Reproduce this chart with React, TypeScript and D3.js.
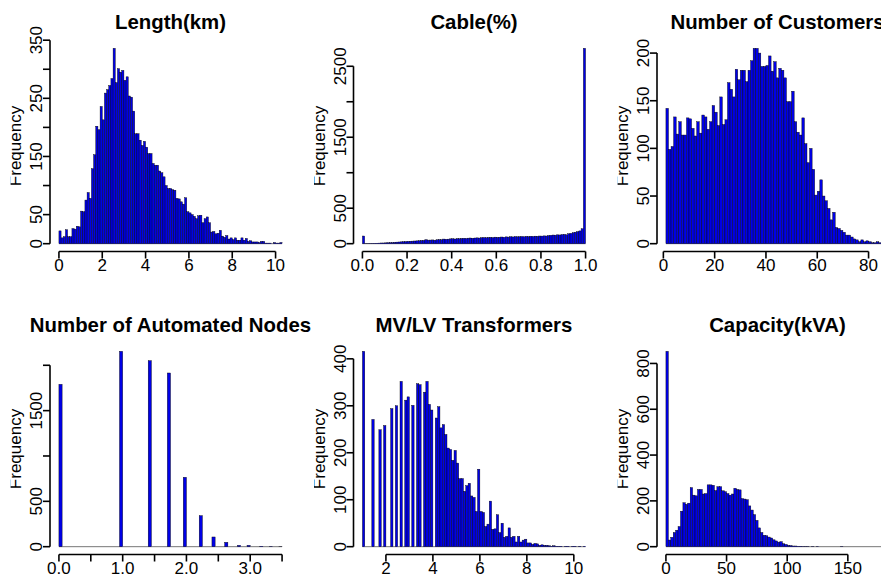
import React from "react";
import * as d3 from "d3";

// ---- histogram bin counts (one entry per bin) ----
const lengthCounts = [
  22, 10, 12, 24, 12, 12, 26, 25, 30, 29,
  56, 55, 75, 88, 78, 129, 153, 202, 196, 236,
  213, 259, 265, 272, 284, 336, 277, 301, 295, 298,
  281, 287, 254, 252, 228, 189, 189, 178, 169, 176,
  166, 155, 155, 138, 135, 135, 125, 122, 115, 100,
  95, 95, 93, 92, 78, 77, 72, 68, 79, 55,
  53, 50, 47, 43, 48, 49, 36, 43, 46, 36,
  20, 21, 17, 18, 23, 13, 11, 14, 8, 10,
  7, 10, 6, 6, 10, 6, 9, 4, 5, 3,
  3, 3, 2, 4, 4, 1, 1, 1, 0, 2,
  1, 1, 2,
];

const cableCounts = [
  108, 2, 3, 4, 5, 6, 7, 8, 10, 10,
  12, 14, 15, 16, 20, 22, 24, 26, 28, 30,
  33, 35, 36, 38, 40, 42, 45, 47, 56, 50,
  51, 53, 49, 55, 58, 56, 65, 62, 64, 68,
  70, 66, 72, 70, 74, 76, 73, 78, 80, 77,
  80, 82, 79, 85, 86, 83, 88, 90, 86, 92,
  89, 91, 94, 90, 96, 93, 98, 95, 100, 97,
  99, 101, 97, 103, 100, 105, 102, 106, 104, 108,
  107, 110, 108, 115, 118, 122, 120, 125, 123, 128,
  131, 125, 140, 145, 155, 162, 170, 180, 210, 2753,
];

const customerCounts = [
  142, 99, 102, 133, 115, 128, 114, 114, 132, 131,
  121, 113, 128, 116, 135, 133, 120, 128, 145, 138,
  124, 154, 125, 130, 169, 162, 154, 183, 172, 182,
  182, 170, 182, 192, 205, 205, 200, 186, 186, 187,
  197, 181, 191, 174, 184, 182, 174, 149, 149, 160,
  128, 117, 114, 132, 105, 85, 100, 78, 51, 55,
  67, 50, 45, 37, 25, 33, 17, 16, 14, 12,
  9, 9, 7, 5, 4, 2, 4, 2, 3, 2,
  1, 1, 2, 1, 1, 1, 1,
];

const automatedNodeCounts = [
  1790, 0, 0, 0, 0, 0, 0, 0, 0, 0,
  0, 0, 0, 0, 0, 0, 0, 0, 0, 2154,
  0, 0, 0, 0, 0, 0, 0, 0, 2051, 0,
  0, 0, 0, 0, 1915, 0, 0, 0, 0, 765,
  0, 0, 0, 0, 342, 0, 0, 0, 107, 0,
  0, 0, 48, 0, 0, 0, 15, 0, 0, 15,
  0, 0, 0, 5, 0, 0, 3, 0, 0, 1,
];

const transformerCounts = [
  416, 0, 0, 0, 271, 0, 0, 249, 0, 258,
  0, 0, 294, 0, 300, 0, 352, 0, 312, 319,
  0, 301, 0, 347, 345, 0, 329, 352, 303, 291,
  0, 274, 298, 253, 260, 239, 210, 207, 184, 205,
  178, 145, 145, 118, 130, 135, 108, 105, 75, 165,
  75, 73, 43, 48, 97, 37, 38, 68, 30, 50,
  20, 22, 40, 20, 22, 10, 22, 10, 14, 16,
  8, 8, 5, 7, 6, 3, 4, 3, 3, 2,
  1, 2, 1, 1, 1, 0, 1, 1, 0, 1,
  1, 0, 1, 0, 1,
];

const capacityCounts = [
  853, 29, 41, 62, 72, 88, 155, 192, 185, 190,
  258, 225, 222, 250, 250, 230, 232, 270, 270, 268,
  245, 262, 262, 244, 240, 232, 225, 230, 255, 250,
  248, 210, 208, 205, 178, 160, 140, 115, 82, 62,
  50, 48, 42, 38, 30, 25, 20, 22, 13, 10,
  6, 5, 3, 3, 2, 2, 1, 1, 1, 0,
  1, 0, 1, 0, 0, 0, 0, 0, 0, 0,
  0, 0, 1, 0, 0, 0, 0, 0, 0, 0,
  0, 0, 0, 0, 0, 0, 0, 0, 0, 0,
  0, 0,
];

// ---- axis ticks ----
const lengthXTicks = [0, 2, 4, 6, 8, 10];
const lengthYTicks = [0, 50, 100, 150, 200, 250, 300, 350];
const lengthYLabels = [0, 50, 150, 250, 350];

const cableXTicks = [0, 0.2, 0.4, 0.6, 0.8, 1.0];
const cableYTicks = [0, 500, 1000, 1500, 2000, 2500];
const cableYLabels = [0, 500, 1500, 2500];

const customerXTicks = [0, 20, 40, 60, 80];
const customerYTicks = [0, 50, 100, 150, 200];

const nodeXTicks = [0, 0.5, 1, 1.5, 2, 2.5, 3, 3.5];
const nodeXLabels = [0, 1, 2, 3];
const nodeYTicks = [0, 500, 1000, 1500, 2000];
const nodeYLabels = [0, 500, 1500];

const transformerXTicks = [2, 4, 6, 8, 10];
const transformerYTicks = [0, 100, 200, 300, 400];

const capacityXTicks = [0, 50, 100, 150];
const capacityYTicks = [0, 200, 400, 600, 800];

// ---- layout ----
const WIDTH = 881;
const HEIGHT = 579;
const PLOT_W = 241;
const PLOT_H = 211;
const COL_LEFT = [50, 353.5, 657];
const ROW_BOTTOM = [251.5, 554.5];
const FIG_PAD = 39.4;
const FONT = "'Liberation Sans', Arial, Helvetica, sans-serif";

type Spec = {
  id: string;
  title: string;
  lo: number;
  binWidth: number;
  counts: number[];
  xTicks: number[];
  xLabels?: number[];
  xFormat: (v: number) => string;
  yTicks: number[];
  yLabels?: number[];
  col: number;
  row: number;
};

const intFmt = d3.format("d");
const oneDec = d3.format(".1f");

const panels: Spec[] = [
  { id: "len", title: "Length(km)", lo: 0, binWidth: 0.1, counts: lengthCounts, xTicks: lengthXTicks, xFormat: intFmt, yTicks: lengthYTicks, yLabels: lengthYLabels, col: 0, row: 0 },
  { id: "cab", title: "Cable(%)", lo: 0, binWidth: 0.01, counts: cableCounts, xTicks: cableXTicks, xFormat: oneDec, yTicks: cableYTicks, yLabels: cableYLabels, col: 1, row: 0 },
  { id: "cus", title: "Number of Customers", lo: 1, binWidth: 1, counts: customerCounts, xTicks: customerXTicks, xFormat: intFmt, yTicks: customerYTicks, col: 2, row: 0 },
  { id: "nod", title: "Number of Automated Nodes", lo: 0, binWidth: 0.05, counts: automatedNodeCounts, xTicks: nodeXTicks, xLabels: nodeXLabels, xFormat: oneDec, yTicks: nodeYTicks, yLabels: nodeYLabels, col: 0, row: 1 },
  { id: "trf", title: "MV/LV Transformers", lo: 1, binWidth: 0.1, counts: transformerCounts, xTicks: transformerXTicks, xFormat: intFmt, yTicks: transformerYTicks, col: 1, row: 1 },
  { id: "cap", title: "Capacity(kVA)", lo: 0, binWidth: 2, counts: capacityCounts, xTicks: capacityXTicks, xFormat: intFmt, yTicks: capacityYTicks, col: 2, row: 1 },
];

function Histogram({ spec }: { spec: Spec }) {
  const left = COL_LEFT[spec.col];
  const right = left + PLOT_W;
  const bottom = ROW_BOTTOM[spec.row];
  const top = bottom - PLOT_H;
  const hi = spec.lo + spec.counts.length * spec.binWidth;
  const span = hi - spec.lo;
  const x = d3.scaleLinear().domain([spec.lo - 0.04 * span, hi + 0.04 * span]).range([left, right]);
  const maxCount = d3.max(spec.counts) as number;
  const y = d3.scaleLinear().domain([-0.04 * maxCount, 1.04 * maxCount]).range([bottom, top]);

  const xLab = new Set(spec.xLabels ?? spec.xTicks);
  const yLab = new Set(spec.yLabels ?? spec.yTicks);
  const xT = spec.xTicks;
  const yT = spec.yTicks;
  const clipId = `fig-${spec.id}`;

  return (
    <g>
      <defs>
        <clipPath id={clipId}>
          <rect x={left - FIG_PAD} y={0} width={PLOT_W + 200} height={HEIGHT} />
        </clipPath>
      </defs>

      {/* bars */}
      <line x1={x(spec.lo)} x2={x(hi)} y1={y(0)} y2={y(0)} stroke="#666" strokeWidth={0.9} />
      {spec.counts.map((c, i) => {
        if (c <= 0) return null;
        const x0 = x(spec.lo + i * spec.binWidth);
        const x1 = x(spec.lo + (i + 1) * spec.binWidth);
        return (
          <rect
            key={i}
            x={x0}
            y={y(c)}
            width={x1 - x0}
            height={y(0) - y(c)}
            fill="#0000e6"
            stroke="#000"
            strokeWidth={0.4}
          />
        );
      })}

      {/* x axis */}
      <line x1={x(xT[0])} x2={x(xT[xT.length - 1])} y1={bottom} y2={bottom} stroke="#000" strokeWidth={1.6} />
      {xT.map((t) => (
        <g key={`xt${t}`}>
          <line x1={x(t)} x2={x(t)} y1={bottom} y2={bottom + 7} stroke="#000" strokeWidth={1.6} />
          {xLab.has(t) && (
            <text x={x(t)} y={bottom + 19.5} textAnchor="middle" fontSize={17} fontFamily={FONT} fill="#000">
              {spec.xFormat(t)}
            </text>
          )}
        </g>
      ))}

      {/* y axis */}
      <line x1={left} x2={left} y1={y(yT[0])} y2={y(yT[yT.length - 1])} stroke="#000" strokeWidth={1.6} />
      {yT.map((t) => (
        <g key={`yt${t}`}>
          <line x1={left} x2={left - 7} y1={y(t)} y2={y(t)} stroke="#000" strokeWidth={1.6} />
          {yLab.has(t) && (
            <text
              transform={`translate(${left - 8},${y(t)}) rotate(-90)`}
              textAnchor="middle"
              fontSize={17}
              fontFamily={FONT}
              fill="#000"
            >
              {intFmt(t)}
            </text>
          )}
        </g>
      ))}

      {/* axis title and main title */}
      <g clipPath={`url(#${clipId})`}>
        <text
          transform={`translate(${left - 29},${(top + bottom) / 2}) rotate(-90)`}
          textAnchor="middle"
          fontSize={17}
          fontFamily={FONT}
          fill="#000"
        >
          Frequency
        </text>
      </g>
      <text
        x={(left + right) / 2}
        y={top - 12}
        textAnchor="middle"
        fontSize={20.4}
        fontWeight="bold"
        fontFamily={FONT}
        fill="#000"
      >
        {spec.title}
      </text>
    </g>
  );
}

export default function App() {
  return (
    <svg
      width={WIDTH}
      height={HEIGHT}
      viewBox={`0 0 ${WIDTH} ${HEIGHT}`}
      style={{ position: "absolute", left: 0, top: 0, background: "#fff" }}
    >
      <rect width={WIDTH} height={HEIGHT} fill="#fff" />
      {panels.map((p) => (
        <Histogram key={p.id} spec={p} />
      ))}
    </svg>
  );
}
